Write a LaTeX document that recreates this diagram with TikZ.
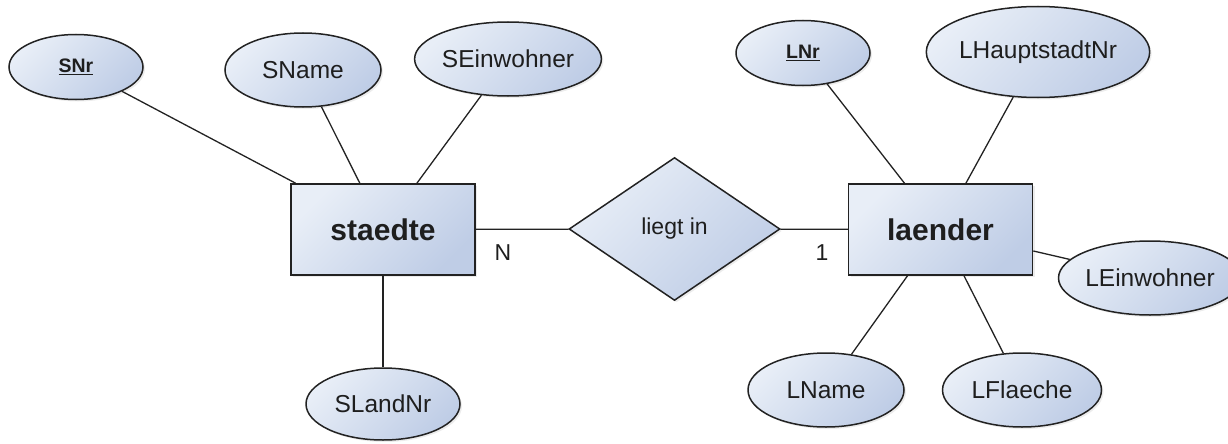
\documentclass[tikz,border=0pt]{standalone}
\usepackage{fontspec}
\setmainfont{Liberation Sans}
\usetikzlibrary{shapes.geometric,shadows}
\definecolor{fillA}{HTML}{E8EEF7}
\definecolor{fillB}{HTML}{BFCDE6}
\definecolor{edge}{HTML}{222222}
\definecolor{ink}{HTML}{1E1E1E}
\tikzset{
  base/.style={draw=edge, line width=1.5pt, top color=fillA, bottom color=fillB, shading angle=45,
    drop shadow={shadow xshift=2pt, shadow yshift=-2pt, opacity=0.15}, text=ink, inner sep=0pt},
  attr/.style={base, ellipse, minimum width=156pt, minimum height=74pt, font=\fontsize{24.5}{28}\selectfont},
  keyattr/.style={base, ellipse, minimum width=134pt, minimum height=65pt, font=\fontsize{19.5}{23}\selectfont\bfseries},
  entity/.style={base, rectangle, minimum width=184pt, minimum height=91pt, font=\fontsize{30}{34}\selectfont\bfseries},
  relation/.style={base, diamond, minimum width=211pt, minimum height=143pt, font=\fontsize{23}{27}\selectfont},
  conn/.style={draw=edge, line width=1.3pt},
  card/.style={text=ink, inner sep=0pt, font=\fontsize{23}{27}\selectfont}
}
\begin{document}
\begin{tikzpicture}[x=1pt,y=-1pt]
\useasboundingbox (0,0) rectangle (1228,444);
\node[entity] (staedte) at (383,229.5) {staedte};
\node[entity] (laender) at (940.5,229.5) {laender};
\node[relation] (liegt) at (674.5,229) {liegt in};
\node[keyattr] (SNr) at (76,67) {\underline{SNr}};
\node[attr] (SName) at (303,70) {SName};
\node[attr] (SEinwohner) at (508,59) {SEinwohner};
\node[attr, minimum width=154pt, minimum height=72pt] (SLandNr) at (383,404) {SLandNr};
\node[keyattr] (LNr) at (803,53) {\underline{LNr}};
\node[attr, minimum width=175pt, minimum height=91pt] (LHaupt) at (1038,52) {LHauptstadtNr};
\node[attr] (LEinwohner) at (1150,278) {LEinwohner};
\node[attr] (LName) at (826,390) {LName};
\node[attr, minimum width=159pt] (LFlaeche) at (1022,390) {LFlaeche};
\node[card] (cardN) at (503,253) {N};
\node[card] (card1) at (822,253) {1};
\draw[conn] (SNr) -- (staedte);
\draw[conn] (SName) -- (staedte);
\draw[conn] (SEinwohner) -- (staedte);
\draw[conn] (staedte) -- (SLandNr);
\draw[conn] (staedte) -- (liegt);
\draw[conn] (liegt) -- (laender);
\draw[conn] (LNr) -- (laender);
\draw[conn] (LHaupt) -- (laender);
\draw[conn] (laender) -- (LEinwohner);
\draw[conn] (laender) -- (LName);
\draw[conn] (laender) -- (LFlaeche);
\end{tikzpicture}
\end{document}
